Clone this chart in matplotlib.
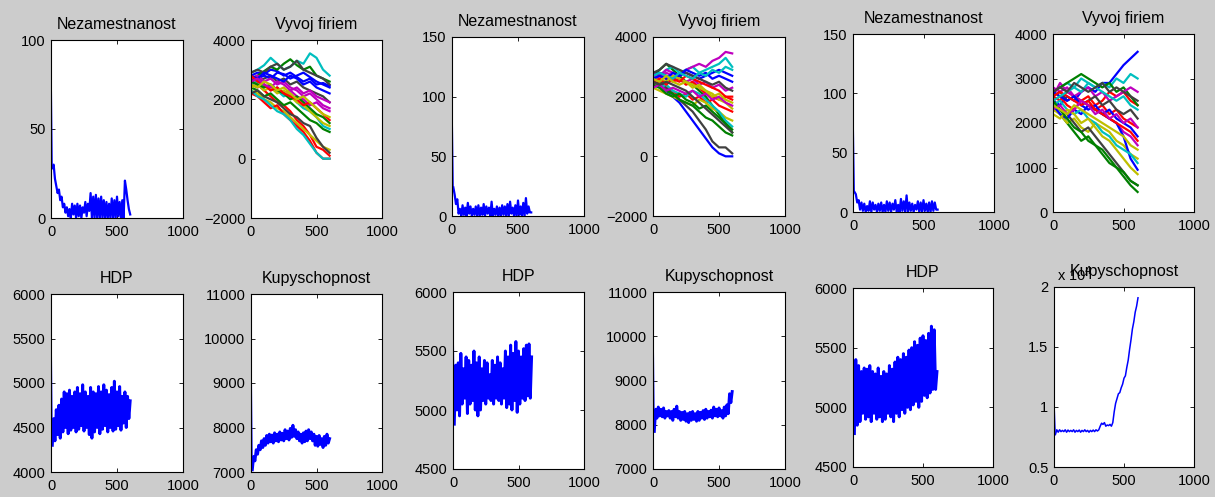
import numpy as np
import matplotlib
matplotlib.use("Agg")
import matplotlib.pyplot as plt
from matplotlib.ticker import FuncFormatter

plt.rcParams['font.family'] = ['Liberation Sans', 'DejaVu Sans']

# time axis: noisy series sampled every 10 steps, firm paths every 50 steps
t_fine = np.arange(0, 601, 10)
t_firm = np.arange(0, 601, 50)

# Nezamestnanost (three runs)
unemp_a = [100, 28, 30, 22, 18, 14, 16, 10, 12, 6, 8, 3, 6, 1, 5, 0, 8, 2, 7, 0,
           8, 1, 7, 0, 6, 3, 9, 1, 8, 4, 14, 0, 12, 0, 13, 0, 11, 0, 12, 0,
           10, 0, 9, 0, 8, 0, 11, 0, 10, 0, 12, 1, 9, 0, 10, 0, 21, 16, 10, 5, 2]
unemp_b = [110, 24, 18, 10, 14, 2, 6, 0, 9, 1, 7, 0, 11, 2, 8, 0, 6, 1, 8, 0,
           9, 0, 7, 1, 10, 0, 8, 2, 7, 0, 12, 0, 6, 1, 8, 0, 7, 0, 9, 1,
           8, 0, 10, 0, 12, 2, 7, 0, 9, 0, 13, 1, 8, 0, 11, 0, 15, 2, 8, 3, 3]
unemp_c = [100, 17, 15, 8, 10, 2, 8, 1, 7, 0, 5, 1, 9, 0, 8, 2, 6, 0, 7, 1,
           8, 0, 6, 0, 9, 1, 8, 0, 7, 2, 10, 0, 6, 0, 11, 1, 9, 0, 14, 0,
           8, 1, 7, 0, 6, 2, 9, 0, 8, 0, 10, 1, 7, 0, 8, 0, 9, 1, 8, 2, 2]

# HDP (three runs)
gdp_a = [5950, 4300, 4600, 4350, 4700, 4420, 4750, 4380, 4820, 4450, 4900, 4500,
         4880, 4430, 4920, 4470, 4850, 4500, 4900, 4450, 4950, 4480, 4880, 4520,
         4980, 4460, 4900, 4500, 4850, 4420, 4950, 4380, 4900, 4450, 4880, 4500,
         4960, 4430, 4900, 4480, 4980, 4520, 4920, 4450, 4870, 4500, 4950, 4460,
         5020, 4480, 4900, 4520, 4960, 4470, 4850, 4550, 4900, 4500, 4850, 4600, 4800]
gdp_b = [6000, 4880, 5380, 5000, 5400, 4950, 5480, 5050, 5350, 5100, 5450, 4970,
         5420, 5050, 5380, 5080, 5500, 5000, 5400, 4950, 5450, 5000, 5350, 5080,
         5420, 5050, 5400, 5100, 5300, 5080, 5420, 5050, 5380, 5100, 5450, 5080,
         5400, 5050, 5350, 5100, 5500, 5020, 5450, 5050, 5550, 5000, 5480, 5080,
         5580, 4980, 5500, 5050, 5450, 5100, 5520, 5080, 5550, 5120, 5560, 5100, 5450]
gdp_c = [5600, 4780, 5400, 4850, 5350, 4880, 5300, 4950, 5330, 4900, 5320, 4920,
         5350, 4880, 5300, 4950, 5280, 4900, 5330, 4920, 5260, 4880, 5300, 4900,
         5280, 4950, 5350, 4920, 5320, 4880, 5380, 4950, 5420, 4920, 5400, 4980,
         5450, 4950, 5420, 5000, 5480, 4980, 5500, 5020, 5550, 5050, 5520, 5000,
         5580, 5050, 5600, 5100, 5560, 5080, 5620, 5120, 5680, 5150, 5650, 5150, 5300]

# Kupyschopnost (three runs)
buy_a = [10300, 7050, 7350, 7250, 7500, 7400, 7600, 7500, 7700, 7550, 7750, 7600,
         7820, 7650, 7850, 7680, 7830, 7650, 7880, 7700, 7850, 7680, 7900, 7720,
         7870, 7700, 7950, 7750, 7920, 7720, 7980, 7780, 8050, 7800, 7950, 7750,
         7900, 7700, 7850, 7650, 7880, 7680, 7920, 7700, 7950, 7750, 7900, 7700,
         7850, 7600, 7800, 7580, 7820, 7620, 7750, 7550, 7800, 7600, 7850, 7650, 7750]
buy_b = [10800, 7850, 8350, 8150, 8400, 8200, 8350, 8180, 8380, 8150, 8300, 8200,
         8320, 8150, 8300, 8100, 8350, 8180, 8420, 8150, 8300, 8100, 8280, 8120,
         8300, 8080, 8250, 8050, 8280, 8100, 8300, 8120, 8250, 8080, 8300, 8100,
         8280, 8150, 8320, 8120, 8350, 8150, 8300, 8180, 8330, 8150, 8400, 8200,
         8350, 8180, 8380, 8200, 8320, 8150, 8400, 8200, 8450, 8250, 8700, 8500, 8750]
buy_c = [11000, 7700, 8100, 7900, 8100, 7950, 8050, 7950, 8100, 7900, 8080, 7950,
         8050, 7950, 8100, 7900, 8050, 7950, 8080, 7900, 8050, 7950, 8100, 7950,
         8050, 7900, 8050, 7950, 8080, 7950, 8100, 8000, 8100, 8400, 8650, 8550,
         8700, 8400, 8500, 8450, 8550, 8400, 8700, 9600, 10300, 10700, 11100, 11200,
         11600, 11900, 12400, 12600, 13300, 13900, 14800, 15600, 16500, 17100, 17900, 18400, 19100]

# Vyvoj firiem: capital of each firm (three runs)
firms_a = [
    [2800, 2900, 2850, 3000, 2950, 2800, 2900, 2750, 2600, 2700, 2500, 2550, 2450],
    [2700, 2800, 2950, 3100, 3000, 3200, 3350, 3150, 3000, 3100, 2800, 2700, 2600],
    [2600, 2500, 2300, 2100, 1900, 1800, 1600, 1300, 1100, 800, 400, 300, 100],
    [2900, 3000, 3150, 3400, 3200, 3000, 3100, 3300, 3200, 3550, 3400, 3000, 2800],
    [2500, 2400, 2500, 2300, 2400, 2200, 2300, 2100, 2000, 1800, 1900, 1700, 1600],
    [2300, 2200, 2000, 1900, 1700, 1600, 1400, 1200, 1000, 800, 600, 400, 300],
    [2700, 2600, 2700, 2800, 2600, 2700, 2500, 2600, 2400, 2300, 2200, 2100, 1900],
    [2600, 2700, 2800, 2700, 2900, 2850, 2700, 2800, 2900, 2750, 2600, 2500, 2400],
    [2400, 2300, 2100, 2200, 2000, 1800, 1900, 1700, 1500, 1300, 1200, 1000, 900],
    [2200, 2100, 1900, 1700, 1800, 1500, 1300, 1100, 900, 600, 200, 0, 0],
    [2500, 2600, 2400, 2500, 2300, 2100, 2200, 1900, 1700, 1600, 1400, 1100, 1000],
    [2700, 2800, 2600, 2700, 2500, 2600, 2400, 2300, 2100, 2200, 2000, 1800, 1700],
    [2400, 2500, 2300, 2400, 2200, 2300, 2100, 1900, 1800, 1600, 1400, 1200, 1100],
    [2900, 3000, 2900, 3100, 3200, 3000, 3100, 3300, 3000, 2900, 2800, 2700, 2500],
    [2800, 2700, 2900, 2800, 2700, 2600, 2800, 2700, 2500, 2600, 2400, 2300, 2200],
    [2600, 2500, 2400, 2500, 2300, 2200, 2000, 2100, 1900, 1700, 1500, 1400, 1200],
    [2800, 2600, 2500, 2300, 2400, 2200, 2100, 2000, 1800, 1900, 1700, 1500, 1300],
    [2300, 2100, 2000, 1800, 1600, 1500, 1300, 1000, 800, 500, 200, 0, 0],
    [2600, 2700, 2500, 2400, 2600, 2500, 2300, 2400, 2200, 2300, 2100, 2000, 1900],
    [2500, 2400, 2600, 2500, 2300, 2400, 2200, 2000, 2100, 1900, 1700, 1500, 1400],
    [2200, 2300, 2100, 2000, 1900, 1700, 1500, 1400, 1200, 1100, 700, 400, 200],
]
firms_b = [
    [2500, 2400, 2200, 2000, 1800, 1500, 1200, 900, 600, 300, 100, 0, 0],
    [2700, 2900, 3100, 2900, 2700, 2500, 2400, 2200, 2000, 1700, 1400, 1100, 800],
    [2400, 2500, 2300, 2200, 2000, 2100, 1900, 2000, 1800, 1900, 1700, 1600, 1500],
    [2600, 2700, 2900, 3000, 2800, 2900, 3000, 2800, 2900, 3000, 3100, 3300, 3000],
    [2800, 2700, 2900, 2800, 2700, 2900, 3000, 3100, 3000, 3200, 3300, 3500, 3450],
    [2300, 2200, 2100, 2000, 1900, 1800, 1700, 1900, 1800, 1600, 1500, 1300, 1200],
    [2600, 2500, 2300, 2100, 1900, 1700, 1500, 1200, 900, 500, 300, 300, 100],
    [2700, 2800, 2700, 2600, 2700, 2800, 2700, 2600, 2700, 2800, 2900, 2800, 2700],
    [2500, 2400, 2200, 2100, 1900, 1800, 1700, 1500, 1300, 1200, 1000, 800, 700],
    [2600, 2700, 2600, 2500, 2600, 2400, 2500, 2300, 2100, 2000, 1900, 2000, 2000],
    [2400, 2300, 2400, 2200, 2100, 2000, 2200, 2100, 1900, 1700, 1500, 1200, 1000],
    [2700, 2600, 2800, 2700, 2600, 2500, 2600, 2400, 2500, 2300, 2400, 2200, 2300],
    [2500, 2600, 2500, 2700, 2600, 2500, 2400, 2300, 2200, 2100, 1900, 1800, 1600],
    [2800, 2900, 3100, 3000, 2900, 2800, 2700, 2600, 2500, 2400, 2500, 2300, 2200],
    [2600, 2700, 2600, 2800, 2700, 2900, 2800, 2700, 2800, 2600, 2700, 2600, 2500],
    [2400, 2300, 2100, 2000, 2100, 1900, 1800, 1600, 1700, 1500, 1300, 1100, 900],
    [2500, 2600, 2400, 2600, 2500, 2700, 2600, 2500, 2400, 2300, 2200, 2000, 1900],
    [2700, 2800, 2700, 2600, 2800, 2700, 2600, 2800, 2700, 2900, 2800, 3000, 2900],
    [2300, 2400, 2200, 2300, 2200, 2100, 2200, 2000, 2100, 1900, 2000, 1800, 1700],
    [2600, 2500, 2700, 2500, 2400, 2500, 2300, 2400, 2200, 2000, 2100, 1900, 1800],
    [2500, 2400, 2500, 2400, 2300, 2200, 2000, 1800, 1600, 1400, 1200, 1000, 800],
]
firms_c = [
    [2500, 2400, 2600, 2500, 2700, 2800, 2700, 2900, 2900, 3100, 3300, 3450, 3600],
    [2400, 2200, 2000, 1800, 1600, 1700, 1500, 1400, 1200, 1000, 800, 600, 450],
    [2600, 2500, 2700, 2600, 2500, 2600, 2400, 2500, 2700, 2600, 2700, 2500, 2400],
    [2700, 2800, 2900, 2800, 3000, 2900, 2800, 2900, 2800, 3000, 2900, 3100, 3000],
    [2600, 2900, 2700, 2600, 2500, 2400, 2300, 2200, 2100, 2000, 1800, 1700, 1500],
    [2300, 2200, 2000, 2100, 1900, 1800, 2000, 1900, 1800, 1600, 1500, 1300, 1200],
    [2500, 2300, 2200, 2000, 1800, 1900, 1700, 1500, 1300, 1100, 900, 700, 600],
    [2400, 2200, 2100, 2300, 2200, 2400, 2300, 2200, 2100, 2000, 1700, 1200, 950],
    [2700, 2800, 2900, 3000, 3100, 3000, 2900, 2800, 2900, 2700, 2800, 2600, 2400],
    [2500, 2600, 2400, 2300, 2500, 2400, 2300, 2400, 2200, 2300, 2100, 2000, 1900],
    [2400, 2500, 2300, 2200, 2300, 2100, 2000, 1800, 1700, 1500, 1400, 1300, 1100],
    [2800, 2700, 2800, 2600, 2700, 2800, 2600, 2700, 2500, 2600, 2700, 2800, 2700],
    [2200, 2100, 2300, 2200, 2000, 2100, 1900, 1700, 1600, 1400, 1200, 1000, 850],
    [2600, 2700, 2500, 2600, 2400, 2500, 2600, 2400, 2500, 2300, 2200, 2300, 2100],
    [2700, 2600, 2500, 2600, 2400, 2300, 2400, 2200, 2300, 2100, 2000, 1900, 1700],
    [2500, 2300, 2100, 1900, 1800, 1600, 1500, 1300, 1100, 1000, 900, 700, 600],
    [2600, 2700, 2600, 2500, 2400, 2500, 2300, 2200, 2100, 2000, 1900, 1800, 1600],
    [2500, 2600, 2700, 2800, 2700, 2900, 2800, 2700, 2600, 2500, 2600, 2400, 2300],
    [2300, 2400, 2200, 2300, 2500, 2400, 2200, 2300, 2100, 2200, 2000, 2100, 1900],
    [2400, 2300, 2200, 2400, 2300, 2200, 2100, 2000, 1900, 1800, 1700, 1500, 1400],
    [2700, 2800, 2700, 2900, 2800, 2700, 2800, 2900, 2700, 2800, 2700, 2600, 2500],
]

# old matlab line colour order
line_colors = [(0, 0, 1), (0, 0.5, 0), (1, 0, 0), (0, 0.75, 0.75),
               (0.75, 0, 0.75), (0.75, 0.75, 0), (0.25, 0.25, 0.25)]

W, H = 1215, 497
fig = plt.figure(figsize=(W / 100, H / 100), dpi=100, facecolor='#cccccc')


def make_axes(box, title, ylim, yticks):
    left, top, right, bottom = box
    ax = fig.add_axes([left / W, 1 - bottom / H, (right - left) / W, (bottom - top) / H])
    ax.set_xlim(0, 1000)
    ax.set_ylim(*ylim)
    ax.set_xticks([0, 500, 1000])
    ax.set_yticks(yticks)
    ax.tick_params(direction='in', top=True, right=True, length=3, width=0.6,
                   labelsize=10.5, colors='black')
    ax.tick_params(axis='x', pad=5)
    ax.tick_params(axis='y', pad=4)
    for sp in ax.spines.values():
        sp.set_linewidth(0.8)
    ax.set_title(title, fontsize=11.5, pad=8)
    return ax


def plot_blue(ax, values, lw=1.6):
    # first segment is the jump from the initial value, keep it thin
    ax.plot(t_fine[:2], values[:2], color=(0, 0, 1), lw=0.7)
    ax.plot(t_fine[1:], values[1:], color=(0, 0, 1), lw=lw)


def plot_firms(ax, paths):
    for i, p in enumerate(paths):
        ax.plot(t_firm, p, color=line_colors[i % len(line_colors)], lw=1.6)


# top row
ax = make_axes((51, 40, 183, 218), 'Nezamestnanost', (0, 100), [0, 50, 100])
plot_blue(ax, unemp_a)
ax = make_axes((251, 40, 382, 218), 'Vyvoj firiem', (-2000, 4000), [-2000, 0, 2000, 4000])
plot_firms(ax, firms_a)
ax = make_axes((452, 37, 584, 216), 'Nezamestnanost', (0, 150), [0, 50, 100, 150])
plot_blue(ax, unemp_b)
ax = make_axes((653, 37, 785, 216), 'Vyvoj firiem', (-2000, 4000), [-2000, 0, 2000, 4000])
plot_firms(ax, firms_b)
ax = make_axes((853, 34, 994, 212), 'Nezamestnanost', (0, 150), [0, 50, 100, 150])
plot_blue(ax, unemp_c)
ax = make_axes((1053, 34, 1194, 212), 'Vyvoj firiem', (0, 4000), [0, 1000, 2000, 3000, 4000])
plot_firms(ax, firms_c)

# bottom row
ax = make_axes((51, 294, 183, 472), 'HDP', (4000, 6000), [4000, 4500, 5000, 5500, 6000])
plot_blue(ax, gdp_a, lw=2.1)
ax = make_axes((251, 294, 382, 472), 'Kupyschopnost', (7000, 11000), [7000, 8000, 9000, 10000, 11000])
plot_blue(ax, buy_a, lw=2.1)
ax = make_axes((453, 292, 584, 469), 'HDP', (4500, 6000), [4500, 5000, 5500, 6000])
plot_blue(ax, gdp_b, lw=2.1)
ax = make_axes((653, 292, 785, 469), 'Kupyschopnost', (7000, 11000), [7000, 8000, 9000, 10000, 11000])
plot_blue(ax, buy_b, lw=2.1)
ax = make_axes((853, 288, 993, 467), 'HDP', (4500, 6000), [4500, 5000, 5500, 6000])
plot_blue(ax, gdp_c, lw=2.1)
ax = make_axes((1054, 287, 1194, 467), 'Kupyschopnost', (5000, 20000), [5000, 10000, 15000, 20000])
ax.yaxis.set_major_formatter(FuncFormatter(lambda v, pos: f'{v / 1e4:g}'))
ax.text(0.02, 1.015, r'x 10$^{4}$', transform=ax.transAxes, fontsize=10.5,
        ha='left', va='bottom')
plot_blue(ax, buy_c, lw=1.1)

fig.savefig('out.png', dpi=100, facecolor=fig.get_facecolor())
